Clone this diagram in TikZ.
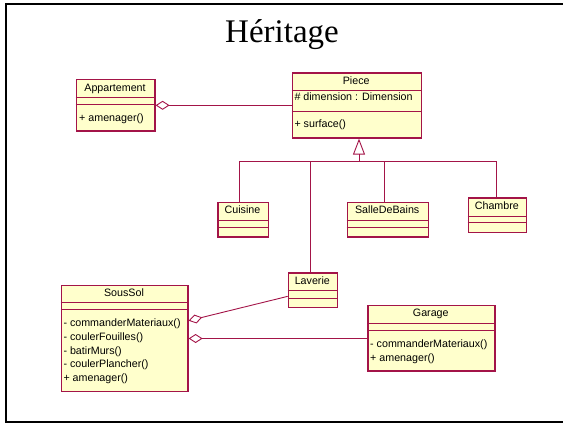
\documentclass[tikz,border=0pt]{standalone}
\usepackage{fontspec}
\setmainfont{Liberation Serif}
\newfontfamily\umlfont{Liberation Sans}
\usetikzlibrary{arrows.meta}
\definecolor{umlred}{RGB}{163,20,72}
\definecolor{umlyellow}{RGB}{255,255,204}

\begin{document}
\begin{tikzpicture}[x=1pt, y=-1pt,
    class node/.style={draw=umlred, fill=umlyellow, line width=1.3pt, inner sep=0pt, anchor=north west},
    class name/.style={font=\umlfont\fontsize{10.7}{12}\selectfont, inner sep=0pt, text height=8pt, text depth=2.5pt},
    member/.style={class name, anchor=west},
    compart/.style={draw=umlred, line width=1pt},
    link/.style={draw=umlred, line width=0.9pt},
    aggregation/.style={link, -{Diamond[open, length=14pt, width=9pt]}},
    inherit/.style={link, -{Triangle[open, length=16pt, width=12pt]}}]

    \useasboundingbox (0,0) rectangle (563,424);
    \draw[line width=2pt] (563,4.3) -- (6,4.3) -- (6,422) -- (563,422);
    \node[anchor=base, font=\fontsize{33}{40}\selectfont] (title) at (282,42.7) {Héritage};

    % classes
    \node[class node, minimum width=78.6pt, minimum height=51.3pt] (app) at (75.7,79) {};
    \node[class node, minimum width=129pt, minimum height=65pt] (piece) at (291.7,72.3) {};
    \node[class node, minimum width=50.4pt, minimum height=34.6pt] (cuisine) at (217.3,201.7) {};
    \node[class node, minimum width=81pt, minimum height=34.6pt] (salle) at (346.7,201.7) {};
    \node[class node, minimum width=58.3pt, minimum height=34.7pt] (chambre) at (467.7,197.3) {};
    \node[class node, minimum width=49.3pt, minimum height=34.2pt] (laverie) at (287.7,272.3) {};
    \node[class node, minimum width=126.6pt, minimum height=106.3pt] (soussol) at (60.7,284.7) {};
    \node[class node, minimum width=127pt, minimum height=65.3pt] (garage) at (367.3,305) {};

    % compartments
    \draw[compart] (75.7,97.7) -- (154.3,97.7) (75.7,104.3) -- (154.3,104.3);
    \draw[compart] (291.7,90.7) -- (420.7,90.7) (291.7,111) -- (420.7,111);
    \draw[compart] (217.3,220.3) -- (267.7,220.3) (217.3,227) -- (267.7,227);
    \draw[compart] (346.7,220.3) -- (427.7,220.3) (346.7,227) -- (427.7,227);
    \draw[compart] (467.7,216) -- (526,216) (467.7,222.3) -- (526,222.3);
    \draw[compart] (287.7,290.7) -- (337,290.7) (287.7,298.3) -- (337,298.3);
    \draw[compart] (60.7,302.7) -- (187.3,302.7) (60.7,309.3) -- (187.3,309.3);
    \draw[compart] (367.3,323.3) -- (494.3,323.3) (367.3,330) -- (494.3,330);

    % texts
    \node[class name] (app name) at (115,88.3) {Appartement};
    \node[member] (app op) at (79,118.5) {+ amenager()};
    \node[class name] (piece name) at (356.2,81.5) {Piece};
    \node[member] (piece attr) at (294.3,97.8) {\# dimension : Dimension};
    \node[member] (piece op) at (294.3,124.3) {+ surface()};
    \node[class name] (cuisine name) at (242.5,211) {Cuisine};
    \node[class name] (salle name) at (387.2,211) {SalleDeBains};
    \node[class name] (chambre name) at (496.85,206.6) {Chambre};
    \node[class name] (laverie name) at (312.3,281.5) {Laverie};
    \node[class name] (soussol name) at (124,293.7) {SousSol};
    \node[member] (soussol op1) at (63.3,324) {- commanderMateriaux()};
    \node[member] (soussol op2) at (63.3,337.7) {- coulerFouilles()};
    \node[member] (soussol op3) at (63.3,351.4) {- batirMurs()};
    \node[member] (soussol op4) at (63.3,365.1) {- coulerPlancher()};
    \node[member] (soussol op5) at (63.3,378.6) {+ amenager()};
    \node[class name] (garage name) at (430.8,314.1) {Garage};
    \node[member] (garage op1) at (370,345) {- commanderMateriaux()};
    \node[member] (garage op2) at (370,358.7) {+ amenager()};

    % inheritance
    \coordinate (fork) at (359,161.7);
    \coordinate (c1) at ([xshift=-4.2pt]cuisine.north);
    \coordinate (c2) at ([xshift=-2.3pt]laverie.north);
    \coordinate (c3) at ([xshift=-3.9pt]salle.north);
    \coordinate (c4) at ([xshift=-1.2pt]chambre.north);
    \draw[inherit] (fork) -- (fork |- piece.south);
    \draw[link] (c1) |- (fork) -| (c4);
    \draw[link] (c2) -- (c2 |- fork);
    \draw[link] (c3) -- (c3 |- fork);

    % aggregations
    \draw[aggregation] (piece.west |- app.east) -- (app.east);
    \draw[aggregation] ([yshift=-6.3pt]laverie.west) -- ([yshift=17.8pt]soussol.east);
    \draw[aggregation] (garage.west |- soussol.east) -- (soussol.east);
\end{tikzpicture}
\end{document}
